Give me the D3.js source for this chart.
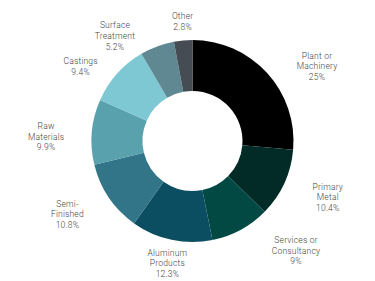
<!DOCTYPE html>
<html>
<head>
<meta charset="utf-8">
<script src="https://cdn.jsdelivr.net/npm/d3@7"></script>
<style>
  html, body { margin: 0; padding: 0; background: #fff; }
  svg { display: block; }
</style>
</head>
<body>
<div id="chart"></div>
<script>
// data
const categories = ['Plant or Machinery', 'Primary Metal', 'Services or Consultancy', 'Aluminum Products',
  'Semi-Finished', 'Raw Materials', 'Castings', 'Surface Treatment', 'Other'];
const labelLines = [
  ['Plant or', 'Machinery'],
  ['Primary', 'Metal'],
  ['Services or', 'Consultancy'],
  ['Aluminum', 'Products'],
  ['Semi-', 'Finished'],
  ['Raw', 'Materials'],
  ['Castings'],
  ['Surface', 'Treatment'],
  ['Other'],
];
const values = [25, 10.4, 9, 12.3, 10.8, 9.9, 9.4, 5.2, 2.8];
const valueLabels = ['25%', '10.4%', '9%', '12.3%', '10.8%', '9.9%', '9.4%', '5.2%', '2.8%'];
const colors = ['#000000', '#022a26', '#024944', '#0b4e62', '#337588', '#58a1ad', '#7dc8d3', '#5f8893', '#454c54'];

// layout
const width = 375;
const height = 281;
const cx = 192.5;
const cy = 141;
const outerR = 101;
const innerR = 50;
const labelRx = 150;
const labelRy = 125;
const lineH = 10.6;
// small hand nudges so labels clear each other like in the original
const labelNudge = [[14, 10], [-1, 4], [32, 0], [6, 0], [-1, 3], [3, 7], [0, 9], [-25, 12], [4, 5]];

const svg = d3.select('#chart')
  .append('svg')
  .attr('width', width)
  .attr('height', height);

const g = svg.append('g')
  .attr('transform', `translate(${cx},${cy})`);

const pie = d3.pie().sort(null).value((d) => d);
const arcs = pie(values);
const arc = d3.arc().innerRadius(innerR).outerRadius(outerR);

g.selectAll('path')
  .data(arcs)
  .join('path')
  .attr('d', arc)
  .attr('fill', (d, i) => colors[i]);

// labels sit on an ellipse around the donut, at each slice's mid angle
g.selectAll('text.label')
  .data(arcs)
  .join('text')
  .attr('class', 'label')
  .attr('text-anchor', 'middle')
  .attr('font-family', 'Roboto, sans-serif')
  .attr('font-weight', 300)
  .attr('font-size', 8.5)
  .attr('letter-spacing', 0.2)
  .attr('fill', '#444')
  .each(function (d, i) {
    const mid = (d.startAngle + d.endAngle) / 2;
    const x = labelRx * Math.sin(mid) + labelNudge[i][0];
    const y = -labelRy * Math.cos(mid) + labelNudge[i][1];
    const lines = labelLines[i].concat([valueLabels[i]]);
    const top = y - ((lines.length - 1) * lineH) / 2;
    d3.select(this).selectAll('tspan')
      .data(lines)
      .join('tspan')
      .attr('x', x)
      .attr('y', (l, k) => top + k * lineH)
      .attr('dy', '0.35em')
      .text((l) => l);
  });
</script>
</body>
</html>
